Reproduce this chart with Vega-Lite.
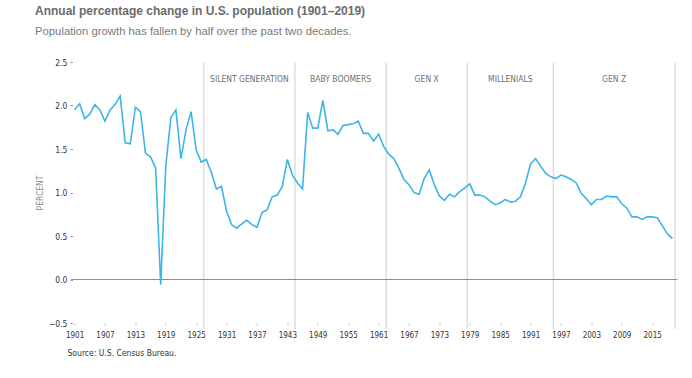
{
  "$schema": "https://vega.github.io/schema/vega-lite/v6.json",
  "width": 608,
  "height": 261,
  "autosize": {"type": "none"},
  "padding": {"left": 69.5, "top": 62, "right": 14.5, "bottom": 55},
  "background": "white",
  "config": {
    "view": {"stroke": null},
    "font": "Liberation Sans",
    "axisX": {
      "labelOverlap": false,
      "labelSeparation": 0,
      "labelBound": false,
      "labelFlush": false
    }
  },
  "title": {
    "text": "Annual percentage change in U.S. population (1901–2019)",
    "subtitle": "Population growth has fallen by half over the past two decades.",
    "anchor": "start",
    "frame": "group",
    "dx": -34.5,
    "offset": 20,
    "font": "Liberation Sans",
    "fontSize": 12,
    "fontWeight": "bold",
    "color": "#6b6b6b",
    "subtitleFont": "Liberation Sans",
    "subtitleFontSize": 11.3,
    "subtitleColor": "#7a7a7a",
    "subtitlePadding": 8
  },
  "datasets": {
    "pop": [
      {"year": 1901, "pct": 1.95}, {"year": 1902, "pct": 2.02}, {"year": 1903, "pct": 1.85}, {"year": 1904, "pct": 1.90},
      {"year": 1905, "pct": 2.01}, {"year": 1906, "pct": 1.95}, {"year": 1907, "pct": 1.82}, {"year": 1908, "pct": 1.95},
      {"year": 1909, "pct": 2.01}, {"year": 1910, "pct": 2.11}, {"year": 1911, "pct": 1.57}, {"year": 1912, "pct": 1.56},
      {"year": 1913, "pct": 1.98}, {"year": 1914, "pct": 1.93}, {"year": 1915, "pct": 1.45}, {"year": 1916, "pct": 1.41},
      {"year": 1917, "pct": 1.28}, {"year": 1918, "pct": -0.06}, {"year": 1919, "pct": 1.30}, {"year": 1920, "pct": 1.86},
      {"year": 1921, "pct": 1.95}, {"year": 1922, "pct": 1.39}, {"year": 1923, "pct": 1.72}, {"year": 1924, "pct": 1.93},
      {"year": 1925, "pct": 1.49}, {"year": 1926, "pct": 1.35}, {"year": 1927, "pct": 1.38}, {"year": 1928, "pct": 1.23},
      {"year": 1929, "pct": 1.04}, {"year": 1930, "pct": 1.07}, {"year": 1931, "pct": 0.785}, {"year": 1932, "pct": 0.63},
      {"year": 1933, "pct": 0.59}, {"year": 1934, "pct": 0.64}, {"year": 1935, "pct": 0.68}, {"year": 1936, "pct": 0.63},
      {"year": 1937, "pct": 0.60}, {"year": 1938, "pct": 0.77}, {"year": 1939, "pct": 0.80}, {"year": 1940, "pct": 0.95},
      {"year": 1941, "pct": 0.97}, {"year": 1942, "pct": 1.07}, {"year": 1943, "pct": 1.38}, {"year": 1944, "pct": 1.20},
      {"year": 1945, "pct": 1.11}, {"year": 1946, "pct": 1.04}, {"year": 1947, "pct": 1.92}, {"year": 1948, "pct": 1.74},
      {"year": 1949, "pct": 1.74}, {"year": 1950, "pct": 2.06}, {"year": 1951, "pct": 1.71}, {"year": 1952, "pct": 1.72},
      {"year": 1953, "pct": 1.67}, {"year": 1954, "pct": 1.77}, {"year": 1955, "pct": 1.78}, {"year": 1956, "pct": 1.79},
      {"year": 1957, "pct": 1.82}, {"year": 1958, "pct": 1.68}, {"year": 1959, "pct": 1.68}, {"year": 1960, "pct": 1.59},
      {"year": 1961, "pct": 1.67}, {"year": 1962, "pct": 1.53}, {"year": 1963, "pct": 1.44}, {"year": 1964, "pct": 1.39},
      {"year": 1965, "pct": 1.28}, {"year": 1966, "pct": 1.15}, {"year": 1967, "pct": 1.09}, {"year": 1968, "pct": 1.00},
      {"year": 1969, "pct": 0.98}, {"year": 1970, "pct": 1.16}, {"year": 1971, "pct": 1.26}, {"year": 1972, "pct": 1.09},
      {"year": 1973, "pct": 0.96}, {"year": 1974, "pct": 0.91}, {"year": 1975, "pct": 0.98}, {"year": 1976, "pct": 0.95},
      {"year": 1977, "pct": 1.01}, {"year": 1978, "pct": 1.05}, {"year": 1979, "pct": 1.10}, {"year": 1980, "pct": 0.97},
      {"year": 1981, "pct": 0.97}, {"year": 1982, "pct": 0.95}, {"year": 1983, "pct": 0.90}, {"year": 1984, "pct": 0.86},
      {"year": 1985, "pct": 0.88}, {"year": 1986, "pct": 0.92}, {"year": 1987, "pct": 0.89}, {"year": 1988, "pct": 0.90},
      {"year": 1989, "pct": 0.95}, {"year": 1990, "pct": 1.11}, {"year": 1991, "pct": 1.33}, {"year": 1992, "pct": 1.39},
      {"year": 1993, "pct": 1.30}, {"year": 1994, "pct": 1.22}, {"year": 1995, "pct": 1.18}, {"year": 1996, "pct": 1.16},
      {"year": 1997, "pct": 1.20}, {"year": 1998, "pct": 1.18}, {"year": 1999, "pct": 1.15}, {"year": 2000, "pct": 1.11},
      {"year": 2001, "pct": 0.99}, {"year": 2002, "pct": 0.93}, {"year": 2003, "pct": 0.86}, {"year": 2004, "pct": 0.92},
      {"year": 2005, "pct": 0.92}, {"year": 2006, "pct": 0.96}, {"year": 2007, "pct": 0.95}, {"year": 2008, "pct": 0.95},
      {"year": 2009, "pct": 0.87}, {"year": 2010, "pct": 0.82}, {"year": 2011, "pct": 0.72}, {"year": 2012, "pct": 0.72},
      {"year": 2013, "pct": 0.69}, {"year": 2014, "pct": 0.72}, {"year": 2015, "pct": 0.72}, {"year": 2016, "pct": 0.71},
      {"year": 2017, "pct": 0.62}, {"year": 2018, "pct": 0.525}, {"year": 2019, "pct": 0.47}
    ],
    "bounds": [
      {"year": 1926.5}, {"year": 1944.5}, {"year": 1962.5}, {"year": 1978.5}, {"year": 1995.5}, {"year": 2019.5}
    ],
    "gens": [
      {"gen": "SILENT GENERATION", "start": 1926.5, "end": 1944.5},
      {"gen": "BABY BOOMERS", "start": 1944.5, "end": 1962.5},
      {"gen": "GEN X", "start": 1962.5, "end": 1978.5},
      {"gen": "MILLENIALS", "start": 1978.5, "end": 1995.5},
      {"gen": "GEN Z", "start": 1995.5, "end": 2019.5}
    ],
    "zeroline": [
      {"year": 1900.3, "year_end": 2020, "value": 0}
    ]
  },
  "encoding": {
    "x": {
      "field": "year", "type": "quantitative",
      "scale": {"domain": [1900, 2020], "nice": false, "zero": false},
      "axis": {
        "values": [1901, 1907, 1913, 1919, 1925, 1931, 1937, 1943, 1949, 1955, 1961, 1967, 1973, 1979, 1985, 1991, 1997, 2003, 2009, 2015],
        "format": "d",
        "labelOverlap": false,
        "grid": false,
        "domain": false,
        "tickSize": 2,
        "tickColor": "#bbbbbb",
        "labelPadding": 6,
        "labelFont": "DejaVu Sans Condensed",
        "labelFontSize": 8,
        "labelColor": "#333333",
        "title": "Source: U.S. Census Bureau.",
        "titleAnchor": "start",
        "titleAlign": "left",
        "titleX": -2.5,
        "titleY": 32,
        "titleBaseline": "alphabetic",
        "titleFont": "DejaVu Sans Condensed",
        "titleFontSize": 8.5,
        "titleFontWeight": "normal",
        "titleColor": "#333333"
      }
    }
  },
  "layer": [
    {
      "data": {"name": "bounds"},
      "mark": {"type": "rule", "color": "#dedede", "strokeWidth": 1.5},
      "encoding": {
        "y": {"datum": 2.49, "type": "quantitative"},
        "y2": {"datum": -0.57}
      }
    },
    {
      "data": {"name": "pop"},
      "mark": {"type": "line", "color": "#3db5e8", "strokeWidth": 1.6},
      "encoding": {
        "y": {
          "field": "pct", "type": "quantitative",
          "scale": {"domain": [-0.5, 2.5], "nice": false, "zero": false},
          "axis": {
            "values": [-0.5, 0, 0.5, 1, 1.5, 2, 2.5],
            "format": ".1f",
            "grid": false,
            "domain": false,
            "offset": -3,
            "tickSize": 2.5,
            "tickColor": "#999999",
            "labelPadding": 3,
            "labelFont": "DejaVu Sans Condensed",
            "labelFontSize": 8.5,
            "labelColor": "#333333",
            "title": "PERCENT",
            "titlePadding": 4,
            "titleFont": "DejaVu Sans Condensed",
            "titleFontSize": 8.5,
            "titleFontWeight": "normal",
            "titleColor": "#8a8a8a"
          }
        }
      }
    },
    {
      "data": {"name": "gens"},
      "transform": [{"calculate": "(datum.start + datum.end) / 2", "as": "year"}],
      "mark": {
        "type": "text",
        "font": "DejaVu Sans Condensed",
        "fontSize": 8.5,
        "color": "#707070",
        "align": "center",
        "baseline": "middle"
      },
      "encoding": {
        "y": {"datum": 2.3, "type": "quantitative"},
        "text": {"field": "gen"}
      }
    },
    {
      "data": {"name": "zeroline"},
      "mark": {"type": "rule", "color": "#8c8c8c", "strokeWidth": 1},
      "encoding": {
        "x2": {"field": "year_end"},
        "y": {"field": "value", "type": "quantitative"}
      }
    }
  ]
}
